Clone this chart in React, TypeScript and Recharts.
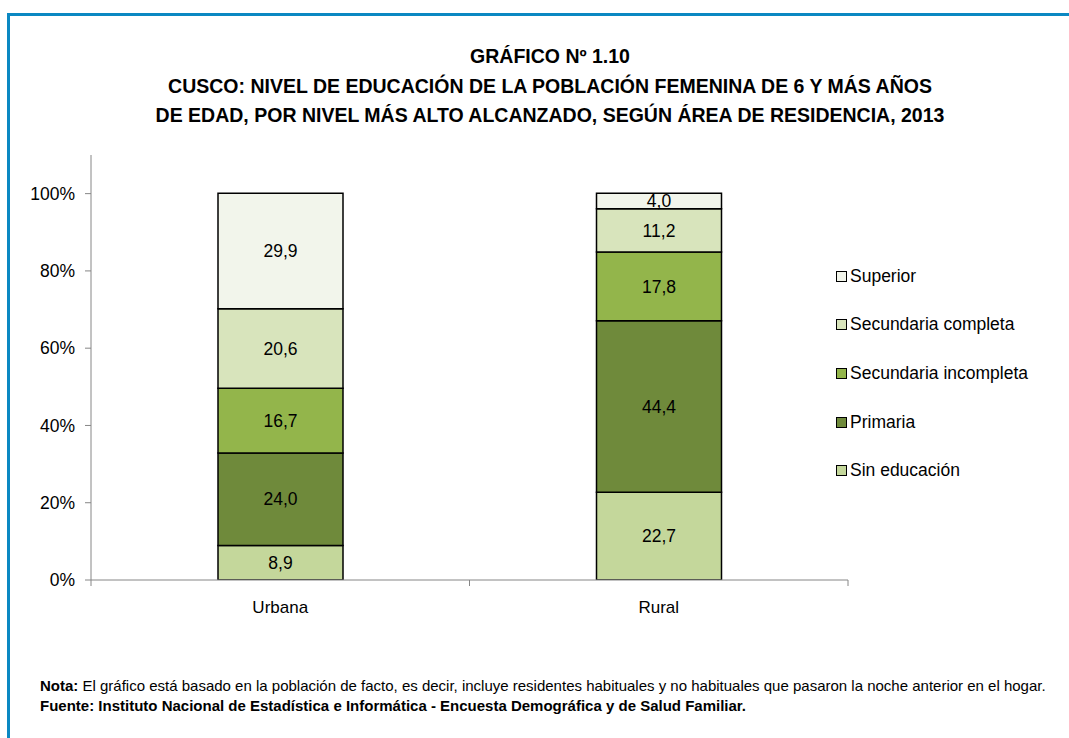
import React from 'react';
import { BarChart, Bar, XAxis, YAxis, LabelList } from 'recharts';

const areas = ['Urbana', 'Rural'];
const sinEducacion = [8.9, 22.7];
const primaria = [24.0, 44.4];
const secIncompleta = [16.7, 17.8];
const secCompleta = [20.6, 11.2];
const superior = [29.9, 4.0];
const yTicks = [0, 20, 40, 60, 80, 100];

const series = [
  { key: 'sin', name: 'Sin educación', color: '#c4d79b', values: sinEducacion },
  { key: 'pri', name: 'Primaria', color: '#6f8a3b', values: primaria },
  { key: 'sinc', name: 'Secundaria incompleta', color: '#93b54b', values: secIncompleta },
  { key: 'scom', name: 'Secundaria completa', color: '#d8e4bc', values: secCompleta },
  { key: 'sup', name: 'Superior', color: '#f2f5eb', values: superior },
];

const data = areas.map((area, i) => {
  const row: Record<string, string | number> = { area };
  series.forEach((s) => { row[s.key] = s.values[i]; });
  return row;
});

const FONT = '"Liberation Sans", Arial, sans-serif';
const fmt = (v: any) => Number(v).toFixed(1).replace('.', ',');

const CHART_W = 1069;
const CHART_H = 640;
const Y_W = 91;
const MARGIN = { top: 155, right: 221, bottom: 30, left: 0 };
const PLOT_W = CHART_W - MARGIN.left - MARGIN.right - Y_W;

const CategoryTick = (props: any) => {
  const { x, y, payload } = props;
  const half = PLOT_W / 4;
  const axisY = CHART_H - MARGIN.bottom - 30;
  return (
    <g>
      <line x1={x - half} x2={x - half} y1={axisY} y2={axisY + 6} stroke="#868686" />
      <line x1={x + half} x2={x + half} y1={axisY} y2={axisY + 6} stroke="#868686" />
      <text x={x} y={y + 25} textAnchor="middle" fill="#000" fontSize={17} fontFamily={FONT}>
        {payload.value}
      </text>
    </g>
  );
};

export default function App() {
  return (
    <div style={{ position: 'absolute', left: 0, top: 0, width: 1069, height: 738, overflow: 'hidden', background: '#fff' }}>
      <div style={{ position: 'absolute', left: 7, top: 13, width: 1200, height: 900, border: '3px solid #0b88c2' }} />
      <div style={{ position: 'absolute', left: 0, top: 42, width: 1100, textAlign: 'center', fontFamily: FONT, fontWeight: 'bold', fontSize: 19.5, lineHeight: '29.5px', color: '#000' }}>
        <div>GRÁFICO Nº 1.10</div>
        <div>CUSCO: NIVEL DE EDUCACIÓN DE LA POBLACIÓN FEMENINA DE 6 Y MÁS AÑOS</div>
        <div>DE EDAD, POR NIVEL MÁS ALTO ALCANZADO, SEGÚN ÁREA DE RESIDENCIA, 2013</div>
      </div>
      <div style={{ position: 'absolute', left: 0, top: 0 }}>
        <BarChart width={CHART_W} height={CHART_H} data={data} margin={MARGIN}>
          <XAxis dataKey="area" stroke="#868686" tickLine={false} tick={<CategoryTick />} height={30} />
          <YAxis
            domain={[0, 110]}
            ticks={yTicks}
            allowDataOverflow
            width={Y_W}
            stroke="#868686"
            tickSize={6}
            tickMargin={10}
            tickFormatter={(v) => `${v}%`}
            tick={{ fill: '#000', fontSize: 17.5, fontFamily: FONT }}
          />
          {series.map((s) => (
            <Bar key={s.key} dataKey={s.key} name={s.name} stackId="a" fill={s.color} stroke="#000" strokeWidth={1.5} barSize={125} isAnimationActive={false}>
              <LabelList dataKey={s.key} position="center" formatter={fmt} fill="#000" fontSize={17.5} fontFamily={FONT} />
            </Bar>
          ))}
        </BarChart>
      </div>
      <div style={{ position: 'absolute', left: 836, top: 252, fontFamily: FONT, fontSize: 17.5, color: '#000' }}>
        {[...series].reverse().map((s) => (
          <div key={s.key} style={{ display: 'flex', alignItems: 'center', height: 48.6, whiteSpace: 'nowrap' }}>
            <span style={{ width: 9, height: 9, background: s.color, border: '1.5px solid #000', marginRight: 3, display: 'inline-block' }} />
            <span>{s.name}</span>
          </div>
        ))}
      </div>
      <div style={{ position: 'absolute', left: 40, top: 676, fontFamily: FONT, fontSize: 15, lineHeight: '20px', color: '#000', whiteSpace: 'nowrap' }}>
        <div><b>Nota:</b> El gráfico está basado en la población de facto, es decir, incluye residentes habituales y no habituales que pasaron la noche anterior en el hogar.</div>
        <div><b>Fuente: Instituto Nacional de Estadística e Informática - Encuesta Demográfica y de Salud Familiar.</b></div>
      </div>
    </div>
  );
}
